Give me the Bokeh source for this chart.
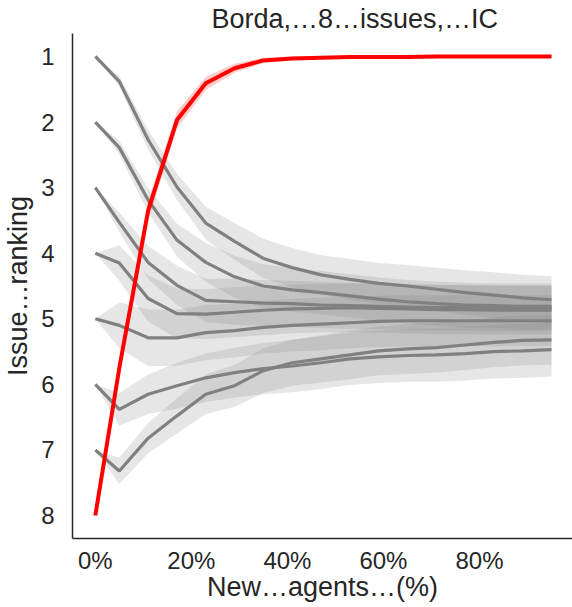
from bokeh.plotting import figure
from bokeh.models import Range1d, FixedTicker
from bokeh.embed import file_html
from bokeh.resources import INLINE

# New agents (%)
x_pct = [0, 5, 11, 17, 23, 29, 35, 41, 47, 53, 59, 65, 71, 77, 83, 89, 95]

# mean issue ranking of the issues initially ranked 1..7 (grey) and 8 (red)
rank1 = [1.0, 1.38, 2.27, 2.99, 3.54, 3.82, 4.08, 4.22, 4.33, 4.40, 4.46, 4.50, 4.55, 4.60, 4.64, 4.68, 4.71]
rank2 = [2.0, 2.39, 3.19, 3.80, 4.14, 4.36, 4.50, 4.56, 4.60, 4.65, 4.70, 4.74, 4.77, 4.79, 4.80, 4.81, 4.81]
rank3 = [3.0, 3.53, 4.14, 4.49, 4.72, 4.74, 4.76, 4.77, 4.79, 4.80, 4.81, 4.82, 4.83, 4.83, 4.84, 4.84, 4.84]
rank4 = [4.0, 4.15, 4.69, 4.92, 4.93, 4.90, 4.87, 4.85, 4.84, 4.83, 4.84, 4.85, 4.86, 4.86, 4.87, 4.87, 4.87]
rank5 = [5.0, 5.10, 5.29, 5.29, 5.21, 5.18, 5.13, 5.10, 5.08, 5.06, 5.04, 5.03, 5.03, 5.03, 5.03, 5.03, 5.03]
rank6 = [6.0, 6.38, 6.15, 6.02, 5.90, 5.82, 5.76, 5.72, 5.67, 5.61, 5.58, 5.56, 5.55, 5.53, 5.50, 5.49, 5.47]
rank7 = [7.0, 7.32, 6.82, 6.48, 6.15, 6.02, 5.79, 5.67, 5.61, 5.55, 5.49, 5.46, 5.44, 5.40, 5.36, 5.33, 5.32]
rank8 = [8.0, 5.75, 3.35, 1.97, 1.41, 1.18, 1.06, 1.03, 1.02, 1.01, 1.01, 1.01, 1.0, 1.0, 1.0, 1.0, 1.0]

# confidence-band half widths
ci1 = [0, 0.08, 0.15, 0.20, 0.25, 0.28, 0.30, 0.30, 0.30, 0.31, 0.31, 0.32, 0.33, 0.34, 0.35, 0.35, 0.36]
ci2 = [0, 0.10, 0.18, 0.25, 0.30, 0.32, 0.33, 0.33, 0.33, 0.33, 0.33, 0.33, 0.34, 0.34, 0.34, 0.35, 0.35]
ci3 = [0, 0.15, 0.25, 0.30, 0.33, 0.35, 0.35, 0.35, 0.35, 0.35, 0.35, 0.35, 0.35, 0.35, 0.35, 0.35, 0.35]
ci4 = [0, 0.27, 0.35, 0.38, 0.38, 0.38, 0.38, 0.37, 0.37, 0.37, 0.37, 0.37, 0.37, 0.37, 0.37, 0.37, 0.37]
ci5 = [0, 0.35, 0.43, 0.43, 0.42, 0.41, 0.40, 0.40, 0.40, 0.39, 0.39, 0.39, 0.39, 0.39, 0.39, 0.39, 0.39]
ci6 = [0, 0.25, 0.30, 0.35, 0.37, 0.38, 0.39, 0.40, 0.40, 0.40, 0.40, 0.40, 0.41, 0.41, 0.41, 0.41, 0.41]
ci7 = [0, 0.20, 0.23, 0.27, 0.30, 0.32, 0.34, 0.35, 0.36, 0.37, 0.37, 0.38, 0.38, 0.38, 0.38, 0.38, 0.38]
ci8 = [0, 0.15, 0.15, 0.13, 0.10, 0.07, 0.04, 0.03, 0.02, 0.015, 0.01, 0.01, 0.01, 0.01, 0.01, 0.01, 0.01]

x_ticks = [0, 20, 40, 60, 80]
x_tick_labels = ["0%", "20%", "40%", "60%", "80%"]
y_ticks = [1, 2, 3, 4, 5, 6, 7, 8]

title_text = "Borda,…8…issues,…IC"
x_label = "New…agents…(%)"
y_label = "Issue…ranking"

FONT = "Liberation Sans"
TXT = "#262626"

p = figure(width=572, height=607, output_backend="svg", toolbar_location=None,
           x_range=Range1d(-4.75, 99.37), y_range=Range1d(8.35, 0.65),
           min_border_left=67, min_border_right=0, min_border_top=33, min_border_bottom=69,
           title=title_text)
p.outline_line_color = None
p.xgrid.visible = False
p.ygrid.visible = False
p.background_fill_color = "white"

p.title.text_font = FONT
p.title.text_font_size = "27px"
p.title.text_font_style = "normal"
p.title.text_color = TXT
p.title.align = "left"
p.title.offset = 139
p.title.standoff = 0

grey_series = [(rank1, ci1), (rank2, ci2), (rank3, ci3), (rank4, ci4),
               (rank5, ci5), (rank6, ci6), (rank7, ci7)]
for r, c in grey_series:
    lo = [a - b for a, b in zip(r, c)]
    hi = [a + b for a, b in zip(r, c)]
    p.varea(x=x_pct, y1=lo, y2=hi, fill_color="grey", fill_alpha=0.2)
for r, c in grey_series:
    p.line(x_pct, r, line_color="grey", line_width=3.2)

lo8 = [a - b for a, b in zip(rank8, ci8)]
hi8 = [a + b for a, b in zip(rank8, ci8)]
p.varea(x=x_pct, y1=lo8, y2=hi8, fill_color="red", fill_alpha=0.2)
p.line(x_pct, rank8, line_color="red", line_width=4)

for ax in (p.xaxis[0], p.yaxis[0]):
    ax.major_tick_line_color = None
    ax.minor_tick_line_color = None
    ax.axis_line_color = "#262626"
    ax.axis_line_width = 1.5
    ax.major_label_text_font = FONT
    ax.major_label_text_font_size = "24px"
    ax.major_label_text_color = TXT
    ax.axis_label_text_font = FONT
    ax.axis_label_text_font_size = "27px"
    ax.axis_label_text_color = TXT
    ax.axis_label_text_font_style = "normal"

p.xaxis.ticker = FixedTicker(ticks=x_ticks)
p.xaxis.major_label_overrides = {t: l for t, l in zip(x_ticks, x_tick_labels)}
p.xaxis.major_label_standoff = 2
p.xaxis.axis_label = x_label
p.xaxis.axis_label_standoff = -5

p.yaxis.ticker = FixedTicker(ticks=y_ticks)
p.yaxis.major_label_standoff = 12
p.yaxis.axis_label = y_label
p.yaxis.axis_label_standoff = 5

open("out.html", "w").write(file_html(p, INLINE))
